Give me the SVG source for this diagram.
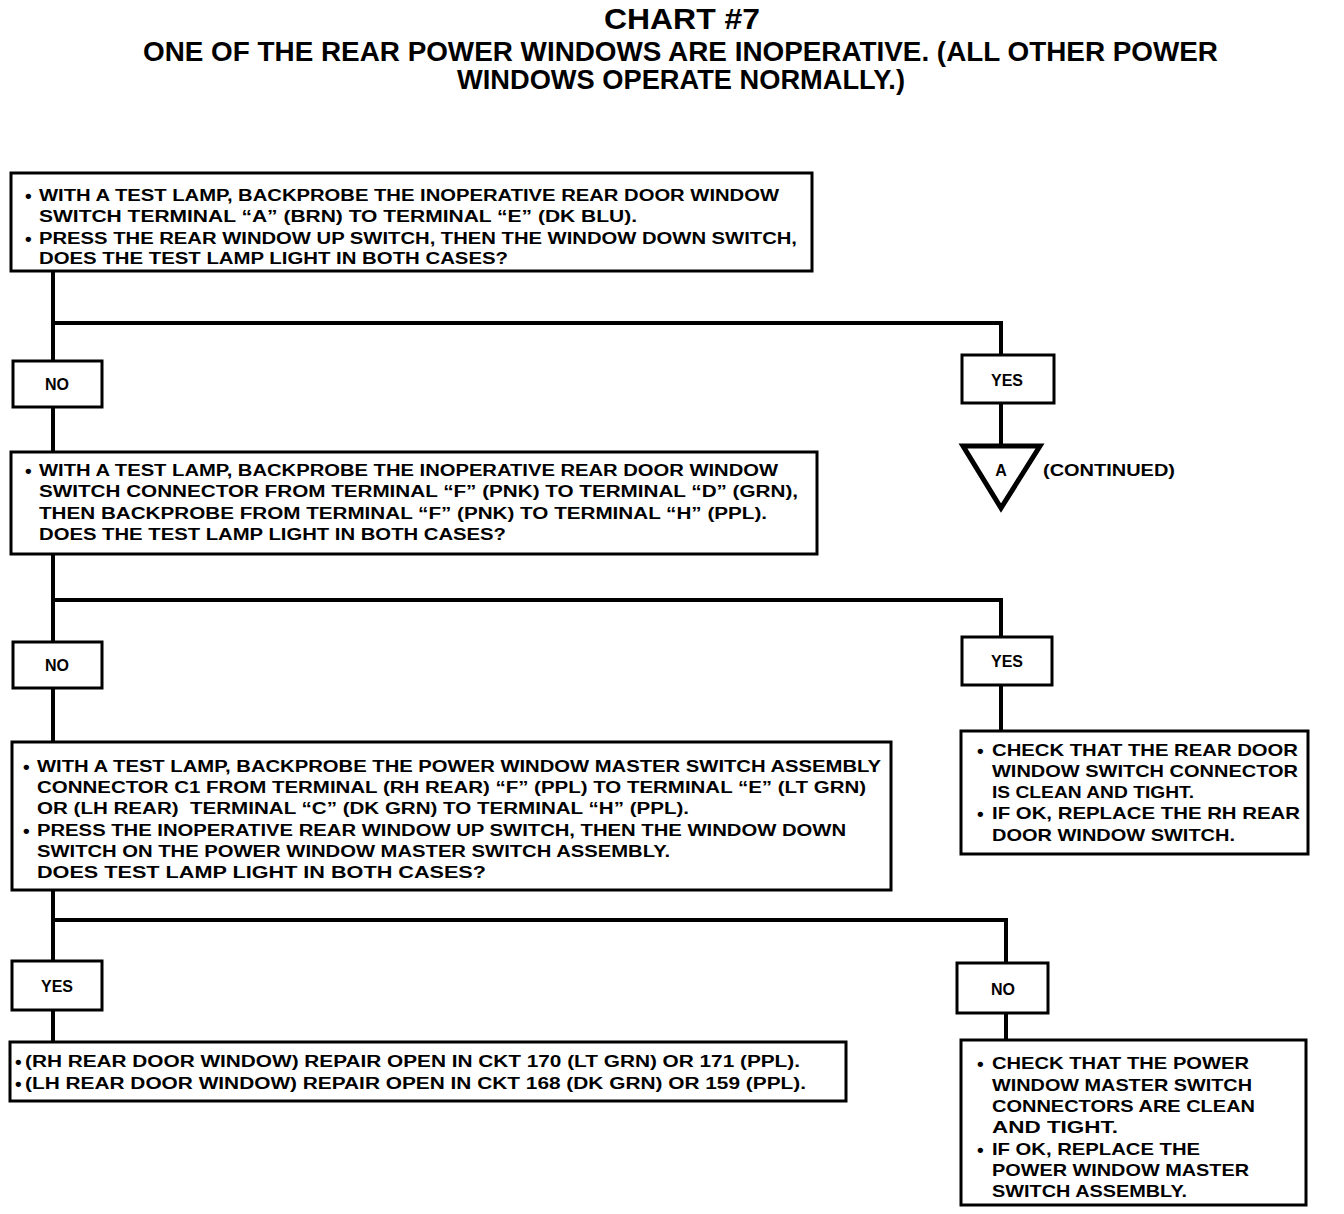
<svg xmlns="http://www.w3.org/2000/svg" width="1344" height="1214" viewBox="0 0 1344 1214">
<style>
.t{font-family:"Liberation Sans",Arial,sans-serif;font-weight:bold;fill:#000}
.title{font-size:30px}
.sub{font-size:27px}
.b{font-size:16px}
.r{font-size:17px}
.bu{font-size:19px}
.lbl{font-size:16px;text-anchor:middle}
.box{fill:#fff;stroke:#000;stroke-width:3}
.ln{fill:none;stroke:#000;stroke-width:4}
</style>
<rect width="1344" height="1214" fill="#fff"/>
<g id="title">
<text class="t title" x="682" y="29" text-anchor="middle" textLength="156" lengthAdjust="spacingAndGlyphs">CHART #7</text>
<text class="t sub" x="143" y="61" textLength="1075" lengthAdjust="spacingAndGlyphs">ONE OF THE REAR POWER WINDOWS ARE INOPERATIVE. (ALL OTHER POWER</text>
<text class="t sub" x="457" y="89" textLength="448" lengthAdjust="spacingAndGlyphs">WINDOWS OPERATE NORMALLY.)</text>
</g>
<g id="connectors">
<polyline class="ln" points="53,271 53,361"/>
<polyline class="ln" points="53,323 1001,323 1001,355"/>
<line class="ln" x1="1001" y1="403" x2="1001" y2="445"/>
<line class="ln" x1="53" y1="407" x2="53" y2="452"/>
<polyline class="ln" points="53,554 53,642"/>
<polyline class="ln" points="53,600 1001,600 1001,637"/>
<line class="ln" x1="1001" y1="685" x2="1001" y2="731"/>
<line class="ln" x1="53" y1="688" x2="53" y2="742"/>
<polyline class="ln" points="53,890 53,961"/>
<polyline class="ln" points="53,920 1006,920 1006,963"/>
<line class="ln" x1="53" y1="1010" x2="53" y2="1042"/>
<line class="ln" x1="1006" y1="1013" x2="1006" y2="1040"/>
</g>
<g id="q1">
<rect class="box" x="11" y="173" width="801" height="98"/>
<text class="t bu" x="25" y="202">•</text>
<text class="t b" x="39" y="201" textLength="740" lengthAdjust="spacingAndGlyphs">WITH A TEST LAMP, BACKPROBE THE INOPERATIVE REAR DOOR WINDOW</text>
<text class="t b" x="39" y="222" textLength="598" lengthAdjust="spacingAndGlyphs">SWITCH TERMINAL “A” (BRN) TO TERMINAL “E” (DK BLU).</text>
<text class="t bu" x="25" y="245">•</text>
<text class="t b" x="39" y="244" textLength="758" lengthAdjust="spacingAndGlyphs">PRESS THE REAR WINDOW UP SWITCH, THEN THE WINDOW DOWN SWITCH,</text>
<text class="t b" x="39" y="264" textLength="469" lengthAdjust="spacingAndGlyphs">DOES THE TEST LAMP LIGHT IN BOTH CASES?</text>
</g>
<g id="no1">
<rect class="box" x="13" y="361" width="89" height="46"/>
<text class="t lbl" x="57" y="390">NO</text>
</g>
<g id="yes1">
<rect class="box" x="962" y="355" width="92" height="48"/>
<text class="t lbl" x="1007" y="386">YES</text>
</g>
<g id="contA">
<polygon points="963,446 1040,446 1001,508" fill="#fff" stroke="#000" stroke-width="5" stroke-linejoin="miter"/>
<text class="t lbl" x="1001" y="476">A</text>
<text class="t b" x="1043" y="476" textLength="132" lengthAdjust="spacingAndGlyphs">(CONTINUED)</text>
</g>
<g id="q2">
<rect class="box" x="11" y="452" width="806" height="102"/>
<text class="t bu" x="25" y="477">•</text>
<text class="t b" x="39" y="476" textLength="739" lengthAdjust="spacingAndGlyphs">WITH A TEST LAMP, BACKPROBE THE INOPERATIVE REAR DOOR WINDOW</text>
<text class="t b" x="39" y="497" textLength="759" lengthAdjust="spacingAndGlyphs">SWITCH CONNECTOR FROM TERMINAL “F” (PNK) TO TERMINAL “D” (GRN),</text>
<text class="t b" x="39" y="519" textLength="728" lengthAdjust="spacingAndGlyphs">THEN BACKPROBE FROM TERMINAL “F” (PNK) TO TERMINAL “H” (PPL).</text>
<text class="t b" x="39" y="540" textLength="467" lengthAdjust="spacingAndGlyphs">DOES THE TEST LAMP LIGHT IN BOTH CASES?</text>
</g>
<g id="no2">
<rect class="box" x="13" y="642" width="89" height="46"/>
<text class="t lbl" x="57" y="671">NO</text>
</g>
<g id="yes2">
<rect class="box" x="962" y="637" width="90" height="48"/>
<text class="t lbl" x="1007" y="667">YES</text>
</g>
<g id="r1">
<rect class="box" x="961" y="731" width="347" height="123"/>
<text class="t bu" x="977" y="757">•</text>
<text class="t r" x="992" y="756" textLength="306" lengthAdjust="spacingAndGlyphs">CHECK THAT THE REAR DOOR</text>
<text class="t r" x="992" y="777" textLength="306" lengthAdjust="spacingAndGlyphs">WINDOW SWITCH CONNECTOR</text>
<text class="t r" x="992" y="798" textLength="202" lengthAdjust="spacingAndGlyphs">IS CLEAN AND TIGHT.</text>
<text class="t bu" x="977" y="820">•</text>
<text class="t r" x="992" y="819" textLength="308" lengthAdjust="spacingAndGlyphs">IF OK, REPLACE THE RH REAR</text>
<text class="t r" x="992" y="841" textLength="243" lengthAdjust="spacingAndGlyphs">DOOR WINDOW SWITCH.</text>
</g>
<g id="q3">
<rect class="box" x="12" y="742" width="879" height="148"/>
<text class="t bu" x="23" y="773">•</text>
<text class="t b" x="37" y="772" textLength="844" lengthAdjust="spacingAndGlyphs">WITH A TEST LAMP, BACKPROBE THE POWER WINDOW MASTER SWITCH ASSEMBLY</text>
<text class="t b" x="37" y="793" textLength="829" lengthAdjust="spacingAndGlyphs">CONNECTOR C1 FROM TERMINAL (RH REAR) “F” (PPL) TO TERMINAL “E” (LT GRN)</text>
<text class="t b" x="37" y="814" textLength="652" lengthAdjust="spacingAndGlyphs" xml:space="preserve">OR (LH REAR)  TERMINAL “C” (DK GRN) TO TERMINAL “H” (PPL).</text>
<text class="t bu" x="23" y="837">•</text>
<text class="t b" x="37" y="836" textLength="809" lengthAdjust="spacingAndGlyphs">PRESS THE INOPERATIVE REAR WINDOW UP SWITCH, THEN THE WINDOW DOWN</text>
<text class="t b" x="37" y="857" textLength="633" lengthAdjust="spacingAndGlyphs">SWITCH ON THE POWER WINDOW MASTER SWITCH ASSEMBLY.</text>
<text class="t b" x="37" y="878" textLength="449" lengthAdjust="spacingAndGlyphs">DOES TEST LAMP LIGHT IN BOTH CASES?</text>
</g>
<g id="yes3">
<rect class="box" x="12" y="961" width="90" height="49"/>
<text class="t lbl" x="57" y="992">YES</text>
</g>
<g id="no3">
<rect class="box" x="957" y="963" width="91" height="50"/>
<text class="t lbl" x="1003" y="995">NO</text>
</g>
<g id="a1">
<rect class="box" x="10" y="1042" width="836" height="59"/>
<text class="t bu" x="15" y="1068">•</text>
<text class="t b" x="25" y="1067" textLength="775" lengthAdjust="spacingAndGlyphs">(RH REAR DOOR WINDOW) REPAIR OPEN IN CKT 170 (LT GRN) OR 171 (PPL).</text>
<text class="t bu" x="15" y="1090">•</text>
<text class="t b" x="25" y="1089" textLength="781" lengthAdjust="spacingAndGlyphs">(LH REAR DOOR WINDOW) REPAIR OPEN IN CKT 168 (DK GRN) OR 159 (PPL).</text>
</g>
<g id="r2">
<rect class="box" x="961" y="1040" width="345" height="165"/>
<text class="t bu" x="977" y="1070">•</text>
<text class="t r" x="992" y="1069" textLength="257" lengthAdjust="spacingAndGlyphs">CHECK THAT THE POWER</text>
<text class="t r" x="992" y="1091" textLength="260" lengthAdjust="spacingAndGlyphs">WINDOW MASTER SWITCH</text>
<text class="t r" x="992" y="1112" textLength="263" lengthAdjust="spacingAndGlyphs">CONNECTORS ARE CLEAN</text>
<text class="t r" x="992" y="1133" textLength="126" lengthAdjust="spacingAndGlyphs">AND TIGHT.</text>
<text class="t bu" x="977" y="1156">•</text>
<text class="t r" x="992" y="1155" textLength="208" lengthAdjust="spacingAndGlyphs">IF OK, REPLACE THE</text>
<text class="t r" x="992" y="1176" textLength="257" lengthAdjust="spacingAndGlyphs">POWER WINDOW MASTER</text>
<text class="t r" x="992" y="1197" textLength="195" lengthAdjust="spacingAndGlyphs">SWITCH ASSEMBLY.</text>
</g>
</svg>
